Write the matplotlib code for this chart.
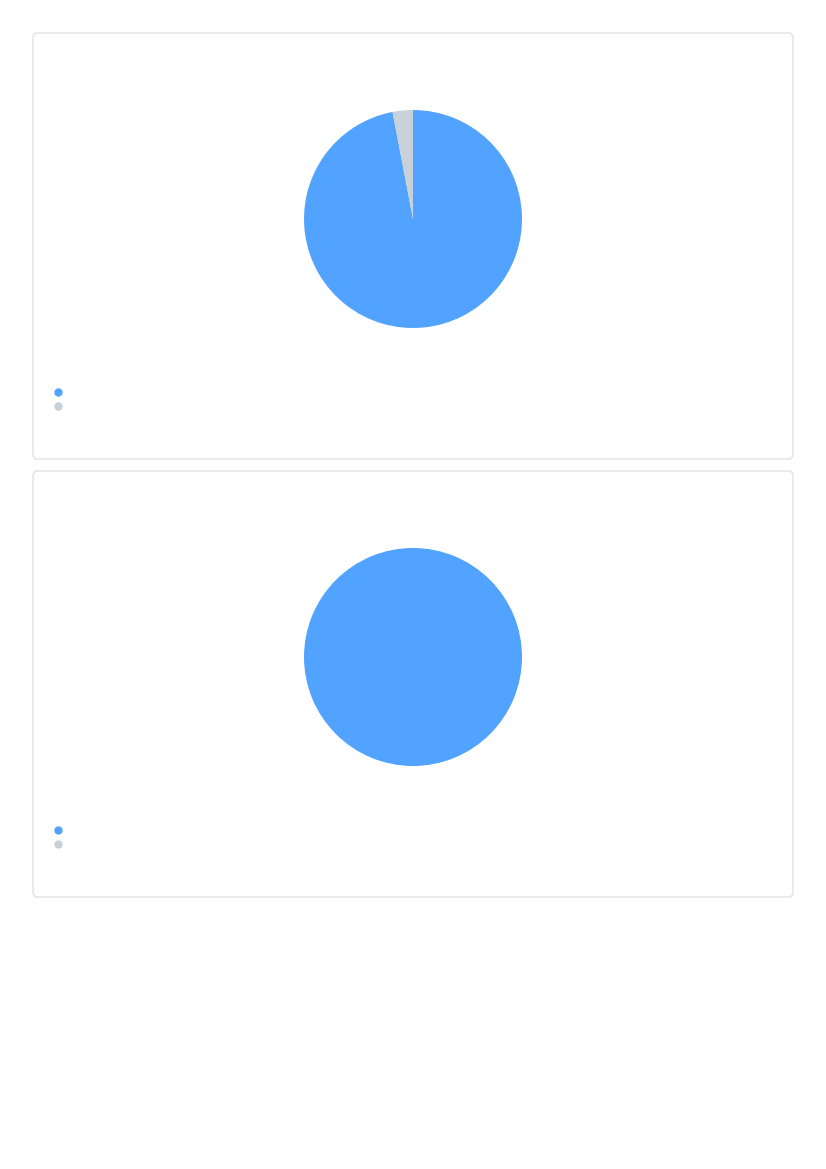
import matplotlib
matplotlib.use("Agg")
import matplotlib.pyplot as plt
from matplotlib.patches import FancyBboxPatch
from matplotlib.lines import Line2D

# Data
categories = ["", ""]
chart1_values = [97, 3]
chart2_values = [100, 0]
colors = ["#52A3FF", "#C8D0D9"]

W, H = 826, 1169
fig = plt.figure(figsize=(W / 100, H / 100), dpi=100)
fig.patch.set_facecolor("white")

def px_rect(x, y, w, h):
    # convert top-left pixel rect to figure fraction [l, b, w, h]
    return [x / W, 1 - (y + h) / H, w / W, h / H]

cards = [(33, 33, 760, 426), (33, 471, 760, 426)]
values = [chart1_values, chart2_values]

for (cx, cy, cw, ch), vals in zip(cards, values):
    card = FancyBboxPatch((cx / W, 1 - (cy + ch) / H), cw / W, ch / H,
                          boxstyle="round,pad=0,rounding_size=0.005",
                          transform=fig.transFigure, facecolor="white",
                          edgecolor="#E6E6E6", linewidth=1.2, zorder=-5)
    fig.patches.append(card)

    # pie: center at card x + 380, card y + 186, radius 109
    r = 109
    pcx, pcy = cx + 380, cy + 186
    ax = fig.add_axes(px_rect(pcx - r, pcy - r, 2 * r, 2 * r))
    ax.set_zorder(2)
    ax.patch.set_alpha(0)
    ax.pie(vals, colors=colors, startangle=90, counterclock=False,
           radius=1, wedgeprops=dict(linewidth=0))
    ax.set_xlim(-1, 1)
    ax.set_ylim(-1, 1)
    ax.set_aspect("equal")
    ax.axis("off")

    handles = [Line2D([], [], marker="o", linestyle="none", markersize=5,
                      markerfacecolor=c, markeredgecolor=c) for c in colors]
    leg = fig.legend(handles, categories, loc="upper left",
                     bbox_to_anchor=((cx + 19.5) / W, 1 - (cy + 355) / H),
                     frameon=False, handletextpad=0.3, labelspacing=0.35,
                     handlelength=1.0, borderaxespad=0, borderpad=0,
                     fontsize=8)
    leg.set_zorder(3)

fig.savefig("out.png", dpi=100, facecolor="white")
